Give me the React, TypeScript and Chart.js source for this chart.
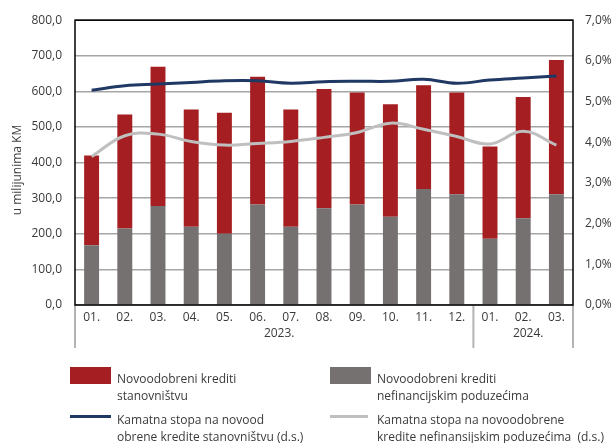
import React, { useEffect, useRef } from "react";
import { Chart, registerables } from "chart.js";

Chart.register(...registerables);

const months = ["01.", "02.", "03.", "04.", "05.", "06.", "07.", "08.", "09.", "10.", "11.", "12.", "01.", "02.", "03."];
const yearLabels = ["2023.", "2024."];
const yearStart = [0, 12];
const yearEnd = [11, 14];

const enterpriseLoans = [168, 215, 278, 220, 200, 282, 220, 272, 282, 248, 326, 311, 186, 244, 311];
const householdLoans = [252, 320, 391, 329, 340, 359, 329, 335, 315, 316, 291, 286, 259, 340, 377];
const householdRate = [5.28, 5.39, 5.43, 5.47, 5.51, 5.51, 5.45, 5.49, 5.5, 5.5, 5.55, 5.45, 5.53, 5.58, 5.63];
const enterpriseRate = [3.65, 4.16, 4.2, 4.02, 3.93, 3.97, 4.02, 4.12, 4.24, 4.47, 4.32, 4.14, 3.96, 4.27, 3.93];

const FONT = "'Open Sans', sans-serif";
const TXT = "#3a3a3a";
const RED = "#a41e22";
const GRAY = "#767171";
const NAVY = "#1f3864";
const LGRAY = "#bfbfbf";

const decorPlugin = {
  id: "decor",
  afterDraw(chart: any) {
    const { ctx, chartArea } = chart;
    const { left, top, right, bottom } = chartArea;
    const xs = chart.scales.x;
    ctx.save();
    ctx.strokeStyle = "#b3b3b3";
    ctx.lineWidth = 2;
    const bounds = [left];
    for (let g = 0; g < yearStart.length; g++) {
      const e = yearEnd[g];
      if (e < months.length - 1) {
        bounds.push((xs.getPixelForValue(e) + xs.getPixelForValue(e + 1)) / 2);
      }
    }
    bounds.push(right);
    bounds.forEach((bx) => {
      ctx.beginPath();
      ctx.moveTo(bx, bottom);
      ctx.lineTo(bx, bottom + 43);
      ctx.stroke();
    });
    ctx.strokeStyle = "#000";
    ctx.lineWidth = 1.5;
    ctx.strokeRect(left, top, right - left, bottom - top);
    ctx.fillStyle = TXT;
    ctx.font = `12px ${FONT}`;
    ctx.textAlign = "center";
    ctx.textBaseline = "middle";
    for (let g = 0; g < yearLabels.length; g++) {
      const cx = (xs.getPixelForValue(yearStart[g]) + xs.getPixelForValue(yearEnd[g])) / 2 + 5;
      ctx.fillText(yearLabels[g], cx, bottom + 29);
    }
    ctx.translate(18, 170);
    ctx.rotate(-Math.PI / 2);
    ctx.fillText("u milijunima KM", 0, 0);
    ctx.restore();
  },
};

export default function App() {
  const ref = useRef<HTMLCanvasElement | null>(null);
  useEffect(() => {
    if (!ref.current) return;
    const chart = new Chart(ref.current, {
      type: "bar",
      data: {
        labels: months,
        datasets: [
          {
            type: "line",
            label: "Kamatna stopa na novoodobrene kredite stanovništvu (d.s.)",
            data: householdRate,
            yAxisID: "y1",
            borderColor: NAVY,
            borderWidth: 3,
            pointRadius: 0,
            tension: 0.4,
            order: 0,
          } as any,
          {
            type: "line",
            label: "Kamatna stopa na novoodobrene kredite nefinansijskim poduzećima (d.s.)",
            data: enterpriseRate,
            yAxisID: "y1",
            borderColor: LGRAY,
            borderWidth: 3,
            pointRadius: 0,
            tension: 0.4,
            order: 0,
          } as any,
          {
            label: "Novoodobreni krediti nefinancijskim poduzećima",
            data: enterpriseLoans,
            backgroundColor: GRAY,
            yAxisID: "y",
            stack: "s",
            order: 1,
            categoryPercentage: 1,
            barPercentage: 0.45,
          },
          {
            label: "Novoodobreni krediti stanovništvu",
            data: householdLoans,
            backgroundColor: RED,
            yAxisID: "y",
            stack: "s",
            order: 2,
            categoryPercentage: 1,
            barPercentage: 0.45,
          },
        ],
      },
      options: {
        responsive: false,
        animation: false,
        layout: { padding: { top: 16, left: 0, right: 0, bottom: 0 } },
        plugins: { legend: { display: false }, tooltip: { enabled: false } },
        scales: {
          x: {
            stacked: true,
            grid: { display: false, drawTicks: false },
            border: { display: false },
            ticks: { font: { family: FONT, size: 12 }, color: TXT, padding: 5, maxRotation: 0 },
            afterFit: (s: any) => {
              s.height = 138;
            },
          },
          y: {
            stacked: true,
            position: "left",
            min: 0,
            max: 800,
            grid: { color: "#a6a6a6", lineWidth: 1.5, drawTicks: false },
            border: { display: false },
            ticks: {
              stepSize: 100,
              padding: 13,
              font: { family: FONT, size: 12 },
              color: TXT,
              callback: (v: any) => Number(v).toFixed(1).replace(".", ","),
            },
            afterFit: (s: any) => {
              s.width = 75;
            },
          },
          y1: {
            position: "right",
            min: 0,
            max: 7,
            grid: { display: false, drawTicks: false },
            border: { display: false },
            ticks: {
              stepSize: 1,
              padding: 12,
              font: { family: FONT, size: 12 },
              color: TXT,
              callback: (v: any) => Number(v).toFixed(1).replace(".", ",") + "%",
            },
            afterFit: (s: any) => {
              s.width = 41;
            },
          },
        },
      },
      plugins: [decorPlugin],
    });
    return () => chart.destroy();
  }, []);

  const txt: React.CSSProperties = {
    position: "absolute",
    fontFamily: FONT,
    fontSize: 12,
    lineHeight: "17px",
    color: TXT,
    whiteSpace: "nowrap",
  };
  return (
    <div style={{ position: "absolute", left: 0, top: 0, width: 614, height: 443, background: "#fff" }}>
      <canvas ref={ref} width={614} height={443} style={{ width: 614, height: 443, display: "block" }} />
      <div style={{ position: "absolute", left: 70, top: 367, width: 41, height: 17, background: RED }} />
      <div style={{ ...txt, left: 117, top: 370 }}>
        Novoodobreni krediti
        <br />
        stanovništvu
      </div>
      <div style={{ position: "absolute", left: 330, top: 367, width: 41, height: 17, background: GRAY }} />
      <div style={{ ...txt, left: 377, top: 370 }}>
        Novoodobreni krediti
        <br />
        nefinancijskim poduzećima
      </div>
      <div style={{ position: "absolute", left: 70, top: 414.5, width: 41, height: 3, background: NAVY }} />
      <div style={{ ...txt, left: 117, top: 411 }}>
        Kamatna stopa na novood
        <br />
        obrene kredite stanovništvu (d.s.)
      </div>
      <div style={{ position: "absolute", left: 330, top: 414.5, width: 38, height: 3, background: LGRAY }} />
      <div style={{ ...txt, left: 377, top: 411 }}>
        Kamatna stopa na novoodobrene
        <br />
        kredite nefinansijskim poduzećima&nbsp;&nbsp;(d.s.)
      </div>
    </div>
  );
}
